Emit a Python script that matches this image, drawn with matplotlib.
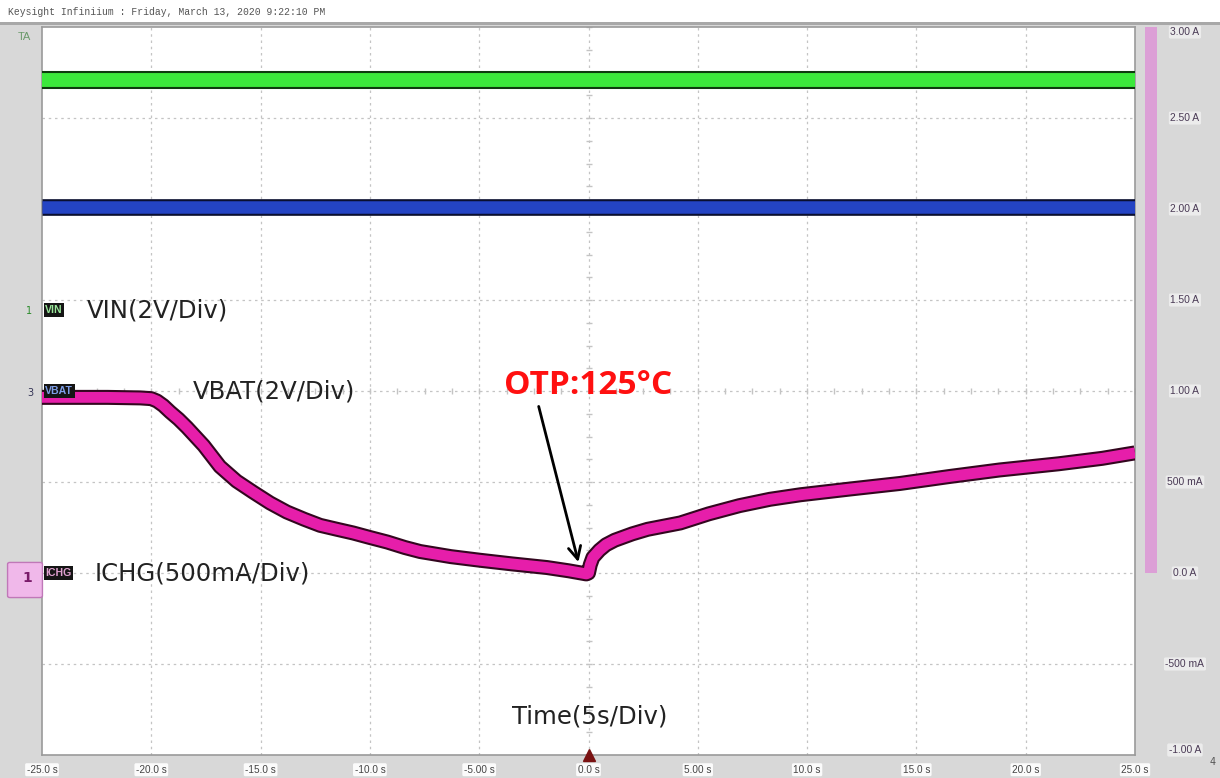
import matplotlib
matplotlib.use("Agg")
import numpy as np
import matplotlib.pyplot as plt
import matplotlib.patheffects as pe
from matplotlib.patches import Rectangle, FancyBboxPatch

# --- data (screen units: amps on the 500 mA/div grid) -------------------
TIME_FLAT = [-25.0, 25.0]
VIN_LEVEL = [2.71, 2.71]
VBAT_LEVEL = [2.01, 2.01]

ICHG_T = [-25.0, -22.0, -20.5, -20.0, -19.74, -19.45, -19.14, -18.75, -18.37,
          -17.6, -16.86, -16.1, -15.35, -14.57, -13.8, -13.0, -12.28, -11.5,
          -10.77, -10.0, -9.2, -8.4, -7.7, -6.3, -4.96, -3.5, -1.9, -0.9,
          -0.1, 0.0, 0.08, 0.2, 0.5, 0.8, 1.2, 2.0, 2.7, 4.2, 5.5, 6.9, 8.3, 9.7,
          12.0, 14.25, 16.5, 18.8, 21.5, 23.5, 25.0]
ICHG_A = [0.965, 0.965, 0.962, 0.958, 0.945, 0.92, 0.885, 0.845, 0.80,
          0.70, 0.585, 0.505, 0.445, 0.385, 0.335, 0.295, 0.262, 0.24,
          0.22, 0.195, 0.17, 0.14, 0.118, 0.09, 0.07, 0.05, 0.03, 0.012,
          -0.005, 0.0, 0.045, 0.085, 0.125, 0.155, 0.18, 0.215, 0.24, 0.275, 0.325,
          0.37, 0.405, 0.43, 0.462, 0.492, 0.53, 0.566, 0.60, 0.63, 0.66]

X_TICKS = [-25, -20, -15, -10, -5, 0, 5, 10, 15, 20, 25]
X_LABELS = ["-25.0 s", "-20.0 s", "-15.0 s", "-10.0 s", "-5.00 s", "0.0 s",
            "5.00 s", "10.0 s", "15.0 s", "20.0 s", "25.0 s"]
Y_TICKS = [3.0, 2.5, 2.0, 1.5, 1.0, 0.5, 0.0, -0.5, -1.0]
Y_LABELS = ["3.00 A", "2.50 A", "2.00 A", "1.50 A", "1.00 A", "500 mA",
            "0.0 A", "-500 mA", "-1.00 A"]

TRIGGER_T = 0.0
CENTER_T, CENTER_A = 0.0, 1.0
VIN_OFFSET, VBAT_OFFSET, ICHG_OFFSET = 1.445, 1.0, 0.0
OTP_TEXT_AT = (-0.02, 1.03)
OTP_ARROW_TAIL = (-2.31, 0.93)
OTP_ARROW_HEAD = (-0.43, 0.045)

TITLE = "Keysight Infiniium : Friday, March 13, 2020 9:22:10 PM"

FRAME = "#d8d8d8"
GRID = "#c4c4c4"
GREEN = "#3be83b"
BLUE = "#2444c4"
MAGENTA = "#e61eaa"
PINK_BAR = "#dc9fd6"
TXT = "#222222"

W, H = 1220, 778
fig = plt.figure(figsize=(W / 100, H / 100), dpi=100)
fig.patch.set_facecolor(FRAME)

# white title strip
fig.add_artist(Rectangle((0, 1 - 22 / H), 1, 22 / H, transform=fig.transFigure,
                         facecolor="white", edgecolor="none"))
fig.add_artist(Rectangle((0, 1 - 25 / H), 1, 3 / H, transform=fig.transFigure,
                         facecolor="#a8a8a8", edgecolor="none"))
fig.text(8 / W, 1 - 12 / H, TITLE, family="Liberation Mono", fontsize=7.0,
         color="#555555", ha="left", va="center")

ax = fig.add_axes([42 / W, 23 / H, 1093 / W, 728 / H])
ax.set_facecolor("white")
ax.set_xlim(-25, 25)
ax.set_ylim(-1, 3)
for s in ax.spines.values():
    s.set_color("#9a9a9a")
    s.set_linewidth(1.2)

for t in X_TICKS[1:-1]:
    ax.axvline(t, color=GRID, lw=0.9, ls=(0, (2, 3)), zorder=1)
for v in Y_TICKS[1:-1]:
    ax.axhline(v, color=GRID, lw=0.9, ls=(0, (2, 3)), zorder=1)

# minor ticks on the centre graticule lines (4 per division)
minor_a = np.arange(-1.0, 3.0001, 0.125)
minor_t = np.arange(-25.0, 25.0001, 1.25)
ax.plot(np.full_like(minor_a, CENTER_T), minor_a, ls="none", marker="_",
        markersize=5, color=GRID, zorder=1)
ax.plot(minor_t, np.full_like(minor_t, CENTER_A), ls="none", marker="|",
        markersize=5, color=GRID, zorder=1)

# traces: bright core with dark noisy edge
def trace(x, y, color, edge, lw):
    ax.plot(x, y, color=color, lw=lw, solid_capstyle="butt",
            solid_joinstyle="round", zorder=3,
            path_effects=[pe.Stroke(linewidth=lw + 3.0, foreground=edge,
                                    capstyle="butt", joinstyle="round"),
                          pe.Normal()])

trace(TIME_FLAT, VIN_LEVEL, GREEN, "#0d3a0d", 10.0)
trace(TIME_FLAT, VBAT_LEVEL, BLUE, "#0a0f30", 9.0)
trace(ICHG_T, ICHG_A, MAGENTA, "#33061f", 7.8)

# x tick labels with white halo
ax.set_xticks(X_TICKS)
ax.set_xticklabels(X_LABELS)
ax.set_yticks([])
ax.tick_params(axis="x", length=0, pad=7, labelsize=7.2, labelcolor="#444444")
for lab in ax.get_xticklabels():
    lab.set_family("Liberation Sans")
    lab.set_bbox(dict(boxstyle="round,pad=0.15", fc="white", ec="none", alpha=0.9))

# right amplitude scale
ytr = ax.get_yaxis_transform()
ax.add_patch(Rectangle((1.0091, 0.0), 0.011, 3.0, transform=ytr,
                       facecolor=PINK_BAR, edgecolor="none", clip_on=False))
for v, lab in zip(Y_TICKS, Y_LABELS):
    va = "top" if v == Y_TICKS[0] else ("bottom" if v == Y_TICKS[-1] else "center")
    ax.text(1.0457, v, lab, transform=ytr, ha="center", va=va, fontsize=7.4,
            family="Liberation Sans", color="#4a3a55", clip_on=False,
            bbox=dict(boxstyle="round,pad=0.15", fc="#f2f2f2", ec="none", alpha=0.8))

# channel tags on left edge
for off, name, col in [(VIN_OFFSET, "VIN", "#9be89b"),
                       (VBAT_OFFSET, "VBAT", "#7f9fe8"),
                       (ICHG_OFFSET, "ICHG", "#e0a0d0")]:
    ax.text(0.003, off, name, transform=ytr, ha="left", va="center",
            fontsize=7.6, family="Liberation Sans", color=col, fontweight="bold",
            bbox=dict(boxstyle="square,pad=0.15", fc="#151515", ec="none"), zorder=5)

# left strip markers
fig.text(18 / W, 1 - 37 / H, "TA", fontsize=8, color="#6a9a6a", ha="left", va="center",
         family="Liberation Sans")
fig.text(29 / W, 1 - 311 / H, "1", fontsize=7, color="#2a8a2a", ha="center", va="center")
fig.text(30 / W, 1 - 393 / H, "3", fontsize=7, color="#333355", ha="center", va="center")
fig.add_artist(FancyBboxPatch((10 / W, 1 - 596 / H), 30 / W, 32 / H,
                              boxstyle="round,pad=0.002", transform=fig.transFigure,
                              facecolor="#f0b8ea", edgecolor="#c078b8", lw=1))
fig.text(27 / W, 1 - 578 / H, "1", fontsize=10, color="#7a1a6a", ha="center", va="center",
         fontweight="bold")

# annotation labels
lab_kw = dict(family="DejaVu Sans", fontsize=17.6, color=TXT, va="center", ha="left",
              zorder=6)
ax.text(-22.94, VIN_OFFSET, "VIN(2V/Div)", **lab_kw)
ax.text(-18.09, VBAT_OFFSET, "VBAT(2V/Div)", **lab_kw)
ax.text(-22.58, ICHG_OFFSET, "ICHG(500mA/Div)", **lab_kw)
ax.text(0.07, -0.786, "Time(5s/Div)", family="DejaVu Sans", fontsize=17.6, color=TXT,
        ha="center", va="center")

ax.text(*OTP_TEXT_AT, "OTP:125°C", family="Open Sans", fontsize=24,
        fontweight="bold", color="#ff1010", ha="center", va="center", zorder=6)
ax.annotate("", xy=OTP_ARROW_HEAD, xytext=OTP_ARROW_TAIL,
            arrowprops=dict(arrowstyle="->,head_length=0.9,head_width=0.45",
                            color="black", lw=2.0), zorder=6)

# trigger marker
ax.plot([TRIGGER_T], [-1.0], marker="^", markersize=8, color="#7a1212",
        clip_on=False, zorder=7)
fig.text(1213 / W, 1 - 762 / H, "4", fontsize=7, color="#555555", ha="center", va="center")

fig.savefig("out.png", dpi=100, facecolor=FRAME)
